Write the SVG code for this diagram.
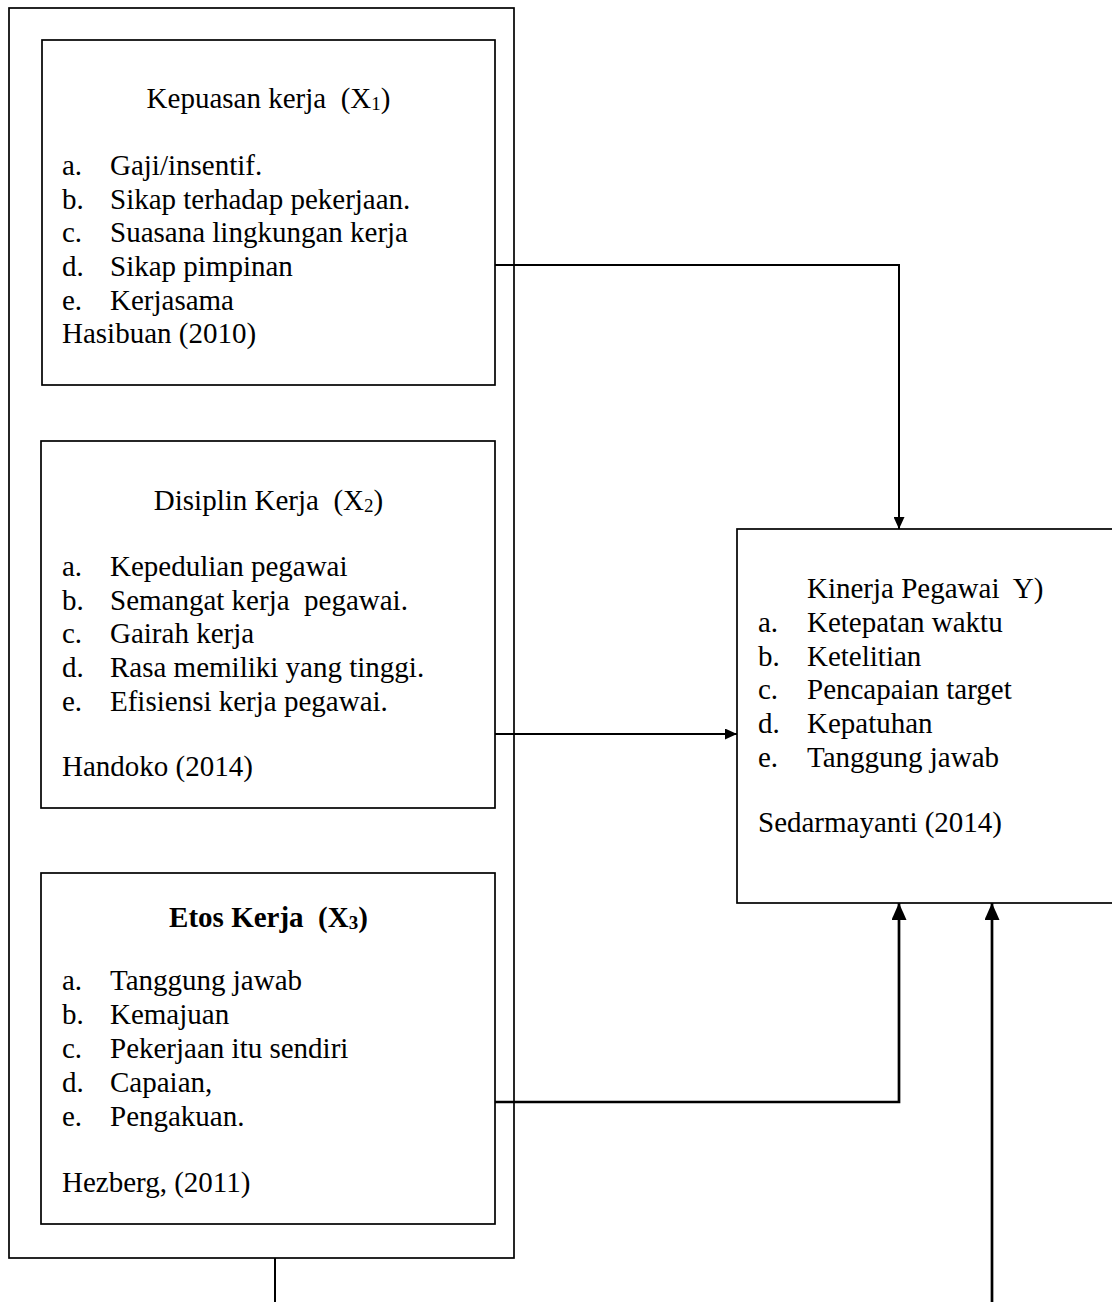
<svg xmlns="http://www.w3.org/2000/svg" width="1112" height="1302" viewBox="0 0 1112 1302">
<style>
text{font-family:"Liberation Serif","Times New Roman",serif;font-size:29px;fill:#000;white-space:pre}
.t{text-anchor:middle}
.b{font-weight:bold}
.box{fill:none;stroke:#000;stroke-width:1.7}
.c{fill:none;stroke:#000;stroke-width:2}
.c3{fill:none;stroke:#000;stroke-width:2.7}
.sub{font-size:19px}
</style>
<defs>
<marker id="ah" markerUnits="userSpaceOnUse" markerWidth="12" markerHeight="11" refX="12" refY="5.5" orient="auto">
<path d="M0,0 L12,5.5 L0,11 z" fill="#000"/>
</marker>
<marker id="ahL" markerUnits="userSpaceOnUse" markerWidth="17" markerHeight="15" refX="17" refY="7.5" orient="auto">
<path d="M0,0 L17,7.5 L0,15 z" fill="#000"/>
</marker>
</defs>
<rect width="1112" height="1302" fill="#fff"/>

<g id="outer">
<rect class="box" x="9" y="8" width="505" height="1250"/>
</g>

<g id="x1">
<rect class="box" x="42" y="40" width="453" height="345"/>
<text class="t" x="268.5" y="108">Kepuasan kerja  (X<tspan class="sub" dy="2">1</tspan><tspan dy="-2">)</tspan></text>
<text x="62" y="175">a.</text><text x="110" y="175">Gaji/insentif.</text>
<text x="62" y="208.5">b.</text><text x="110" y="208.5">Sikap terhadap pekerjaan.</text>
<text x="62" y="242">c.</text><text x="110" y="242">Suasana lingkungan kerja</text>
<text x="62" y="276">d.</text><text x="110" y="276">Sikap pimpinan</text>
<text x="62" y="309.5">e.</text><text x="110" y="309.5">Kerjasama</text>
<text x="62" y="343">Hasibuan (2010)</text>
</g>

<g id="x2">
<rect class="box" x="41" y="441" width="454" height="367"/>
<text class="t" x="268.5" y="510">Disiplin Kerja  (X<tspan class="sub" dy="2">2</tspan><tspan dy="-2">)</tspan></text>
<text x="62" y="576">a.</text><text x="110" y="576">Kepedulian pegawai</text>
<text x="62" y="609.5">b.</text><text x="110" y="609.5">Semangat kerja  pegawai.</text>
<text x="62" y="643">c.</text><text x="110" y="643">Gairah kerja</text>
<text x="62" y="677">d.</text><text x="110" y="677">Rasa memiliki yang tinggi.</text>
<text x="62" y="710.5">e.</text><text x="110" y="710.5">Efisiensi kerja pegawai.</text>
<text x="62" y="776">Handoko (2014)</text>
</g>

<g id="x3">
<rect class="box" x="41" y="873" width="454" height="351"/>
<text class="t b" x="268.5" y="927">Etos Kerja  (X<tspan class="sub" dy="2">3</tspan><tspan dy="-2">)</tspan></text>
<text x="62" y="990">a.</text><text x="110" y="990">Tanggung jawab</text>
<text x="62" y="1024">b.</text><text x="110" y="1024">Kemajuan</text>
<text x="62" y="1058">c.</text><text x="110" y="1058">Pekerjaan itu sendiri</text>
<text x="62" y="1092">d.</text><text x="110" y="1092">Capaian,</text>
<text x="62" y="1126">e.</text><text x="110" y="1126">Pengakuan.</text>
<text x="62" y="1192">Hezberg, (2011)</text>
</g>

<g id="y">
<rect class="box" x="737" y="529" width="385" height="374"/>
<text x="807" y="598">Kinerja Pegawai  Y)</text>
<text x="758" y="632">a.</text><text x="807" y="632">Ketepatan waktu</text>
<text x="758" y="665.5">b.</text><text x="807" y="665.5">Ketelitian</text>
<text x="758" y="699">c.</text><text x="807" y="699">Pencapaian target</text>
<text x="758" y="733">d.</text><text x="807" y="733">Kepatuhan</text>
<text x="758" y="766.5">e.</text><text x="807" y="766.5">Tanggung jawab</text>
<text x="758" y="832">Sedarmayanti (2014)</text>
</g>

<g id="connectors">
<path class="c" d="M495,265 H899 V529" marker-end="url(#ah)"/>
<path class="c" d="M495,734 H737" marker-end="url(#ah)"/>
<path class="c3" d="M495,1102 H899 V903" marker-end="url(#ahL)"/>
<path class="c3" d="M992,1302 V903" marker-end="url(#ahL)"/>
<path class="c" d="M275,1258 V1302"/>
</g>
</svg>
